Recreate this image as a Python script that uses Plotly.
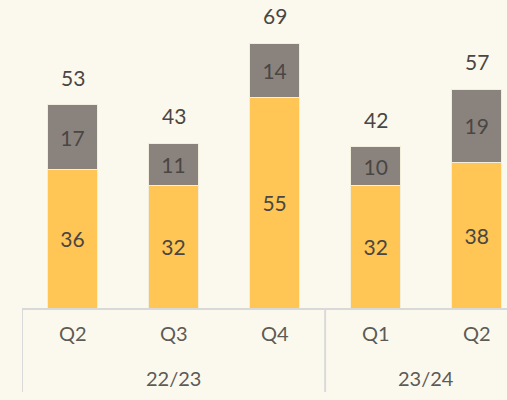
import plotly.graph_objects as go

years = ["22/23", "22/23", "22/23", "23/24", "23/24"]
quarters = ["Q2", "Q3", "Q4", "Q1", "Q2"]
base_vals = [36, 32, 55, 32, 38]
top_vals = [17, 11, 14, 10, 19]
totals = [53, 43, 69, 42, 57]

YELLOW = "#FFC555"
GRAY = "#8A837D"
BG = "#FBF9EE"
TXT = "#4A4643"
TICK = "#5E5A55"
LINE = "#D9D9D9"
FONT = "Lato, Noto Sans, sans-serif"

keys = [f"{y} {q}" for y, q in zip(years, quarters)]

fig = go.Figure()
fig.add_trace(go.Bar(
    x=keys, y=base_vals, marker=dict(color=YELLOW, line=dict(color="#F3EEDC", width=1)),
    text=[str(v) for v in base_vals], textposition="inside", insidetextanchor="middle",
    textfont=dict(size=21, color=TXT, family=FONT), width=0.5, showlegend=False,
    hoverinfo="skip",
))
fig.add_trace(go.Bar(
    x=keys, y=top_vals, marker=dict(color=GRAY, line=dict(color="#F3EEDC", width=1)),
    text=[str(v) for v in top_vals], textposition="inside", insidetextanchor="middle",
    textfont=dict(size=21, color=TXT, family=FONT), width=0.5, showlegend=False,
    hoverinfo="skip",
))
for i in range(len(totals)):
    fig.add_annotation(
        x=keys[i], y=totals[i], text=str(totals[i]), showarrow=False,
        yanchor="bottom", yshift=13, font=dict(size=21, color=TXT, family=FONT),
    )
    fig.add_annotation(
        x=keys[i], xref="x", y=0, yref="paper", text=quarters[i], showarrow=False,
        yanchor="middle", yshift=-25, font=dict(size=20, color=TICK, family=FONT),
    )

# year group labels and dividers
groups = []
for i, y in enumerate(years):
    if not groups or groups[-1][0] != y:
        groups.append([y, i, i])
    else:
        groups[-1][2] = i
for y, a, b in groups:
    fig.add_annotation(
        x=(a + b) / 2, xref="x", y=0, yref="paper", text=y, showarrow=False,
        yanchor="middle", yshift=-70, font=dict(size=20, color=TICK, family=FONT),
    )
    fig.add_shape(type="line", xref="x", yref="paper", x0=a - 0.5, x1=a - 0.5,
                  y0=0, y1=-84 / 308, line=dict(color=LINE, width=2))

fig.update_layout(
    barmode="stack", width=507, height=400,
    margin=dict(l=22, r=0, t=0, b=92),
    paper_bgcolor=BG, plot_bgcolor=BG,
)
fig.update_xaxes(
    type="category", range=[-0.5, 4.3], showline=True, linecolor=LINE, linewidth=2,
    showticklabels=False, ticks="", showgrid=False,
)
fig.update_yaxes(range=[0, 80.3], visible=False, showgrid=False)

fig.write_html(
    "out.html",
    config={"displayModeBar": False, "staticPlot": True},
    post_script="document.body.style.margin='0';document.body.style.overflow='hidden';",
)
